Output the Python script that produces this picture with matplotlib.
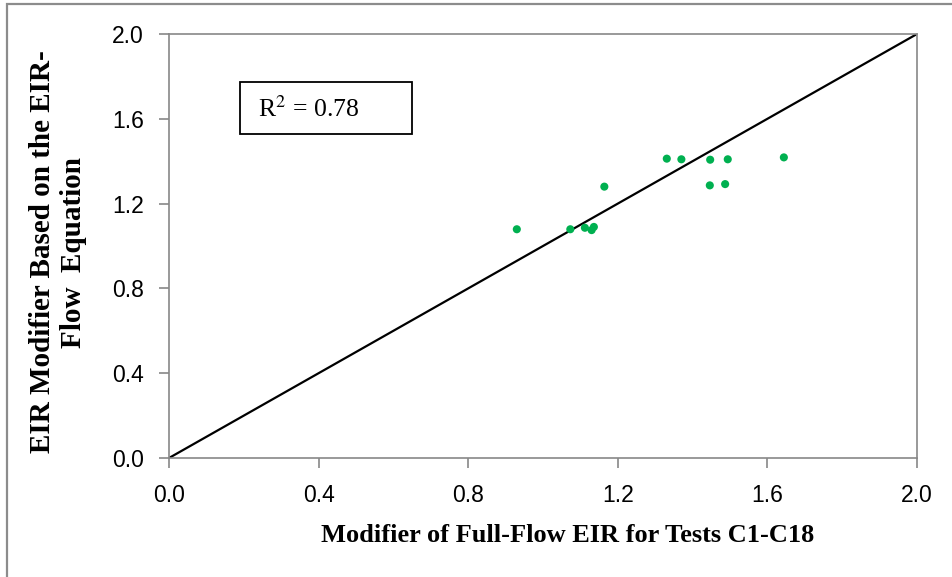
import matplotlib
matplotlib.use("Agg")
import matplotlib.pyplot as plt
from matplotlib.patches import Rectangle

full_flow_modifier = [0.930, 1.073, 1.112, 1.130, 1.136, 1.164, 1.331, 1.370,
                      1.447, 1.494, 1.644, 1.446, 1.487]
equation_modifier = [1.079, 1.079, 1.086, 1.075, 1.090, 1.280, 1.412, 1.409,
                     1.407, 1.409, 1.418, 1.286, 1.292]
line_x = [0.0, 2.0]
line_y = [0.0, 2.0]
ticks = [0.0, 0.4, 0.8, 1.2, 1.6, 2.0]
tick_labels = ["0.0", "0.4", "0.8", "1.2", "1.6", "2.0"]

tick_font = "Liberation Sans"
serif = "Liberation Serif"

fig = plt.figure(figsize=(9.52, 5.77), dpi=100)
ax = fig.add_axes([169/952, 1-458/577, (917-169)/952, (458-34)/577])

ax.plot(line_x, line_y, color="black", lw=1.6, zorder=2)
ax.scatter(full_flow_modifier, equation_modifier, s=34, color="#00B050",
           edgecolors="none", zorder=3)

ax.set_xlim(0, 2.0)
ax.set_ylim(0, 2.0)
ax.set_xticks(ticks)
ax.set_xticklabels(tick_labels)
ax.set_yticks(ticks)
ax.set_yticklabels(tick_labels)
for lab in ax.get_xticklabels() + ax.get_yticklabels():
    lab.set_fontfamily(tick_font)
    lab.set_fontsize(16.5)
ax.tick_params(direction="out", length=7, color="#888888", width=1.2)
ax.tick_params(axis="x", pad=12)
ax.tick_params(axis="y", pad=11)
for s in ax.spines.values():
    s.set_color("#888888")
    s.set_linewidth(1.2)

fig.text(568/952, 1-535/577, "Modifier of Full-Flow EIR for Tests C1-C18",
         family=serif, weight="bold", fontsize=19, ha="center", va="center")
fig.text(58/952, 1-252/577, "EIR Modifier Based on the EIR-\nFlow  Equation",
         family=serif, weight="bold", fontsize=21, ha="center", va="center",
         rotation=90, linespacing=1.15, multialignment="center")

# R^2 box
fig.patches.append(Rectangle((240/952, 1-134/577), (412-240)/952, (134-82)/577,
                             transform=fig.transFigure, fill=False,
                             edgecolor="black", lw=1.3))
fig.text(258/952, 1-109/577, r"R$^{2}$ = 0.78", family=serif, fontsize=18.5,
         ha="left", va="center", math_fontfamily="stix")

# outer frame (top and left edges visible)
fig.patches.append(Rectangle((7/952, -0.05), 1.1, 1 - 4/577 + 0.05,
                             transform=fig.transFigure, fill=False,
                             edgecolor="#8c8c8c", lw=1.6))

fig.savefig("out.png", dpi=100)
